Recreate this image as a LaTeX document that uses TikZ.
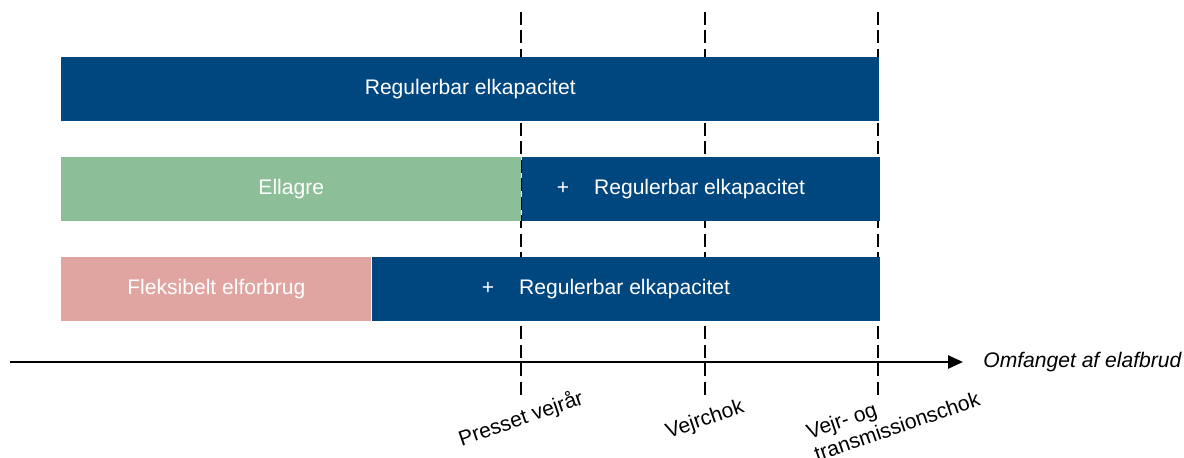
\documentclass[tikz,border=0pt]{standalone}
\usepackage{fontspec}
\setmainfont{Liberation Sans}
\usetikzlibrary{arrows.meta,positioning}
\definecolor{regblue}{RGB}{0,70,127}
\definecolor{lagergreen}{RGB}{140,190,151}
\definecolor{flexpink}{RGB}{224,165,160}
\tikzset{
  bar/.style={fill=#1,draw=none,inner sep=0pt,minimum height=1.28cm,anchor=north west,text=white},
  level/.style={dash pattern=on 0.26cm off 0.11cm,line width=1.4pt},
  scenario/.style={rotate=19,inner sep=0pt,align=left}
}
\begin{document}
\begin{tikzpicture}[x=0.02cm,y=-0.02cm,line cap=butt,font=\fontsize{12}{13.5}\selectfont]
\useasboundingbox (0,0) rectangle (1184,457);
% scenario levels
\coordinate (lvA) at (521,12);
\coordinate (lvAend) at (521,399);
\coordinate (lvB) at (705,12);
\coordinate (lvBend) at (705,399);
\coordinate (lvC) at (878,12);
\coordinate (lvCend) at (878,399);
\draw[level] (lvA) -- (lvAend);
\draw[level] (lvB) -- (lvBend);
\draw[level] (lvC) -- (lvCend);
% bars
\node[bar=regblue,minimum width=16.36cm] (cap) at (61,57) {Regulerbar elkapacitet};
\node[bar=lagergreen,minimum width=9.2cm] (lager) at (61,157) {Ellagre};
\node[bar=regblue,minimum width=7.16cm,right=0pt of lager] (capB) {};
\node[bar=flexpink,minimum width=6.2cm] (flex) at (61,257) {Fleksibelt elforbrug};
\node[bar=regblue,minimum width=10.16cm,right=0pt of flex] (capC) {};
\node[text=white,xshift=-0.40cm] (capBtxt) at (capB.center) {+\hspace{0.5cm}Regulerbar elkapacitet};
\node[text=white,xshift=-0.40cm] (capCtxt) at (capC.center) {+\hspace{0.5cm}Regulerbar elkapacitet};
% axis
\coordinate (ax0) at (10,362);
\coordinate (ax1) at (963,362);
\draw[line width=1.5pt,-{Triangle[length=0.3cm,width=0.26cm]}] (ax0) -- (ax1);
\node[inner sep=0pt,anchor=west,font=\fontsize{12}{13.5}\selectfont\itshape] (axlabel) at (983,362) {Omfanget af elafbrud};
% labels
\node[scenario] (pv) at (521,419) {Presset vejrår};
\node[scenario] (vc) at (705,420) {Vejrchok};
\node[scenario] (tc) at (893,415) {Vejr- og\\transmissionschok};
\end{tikzpicture}
\end{document}
